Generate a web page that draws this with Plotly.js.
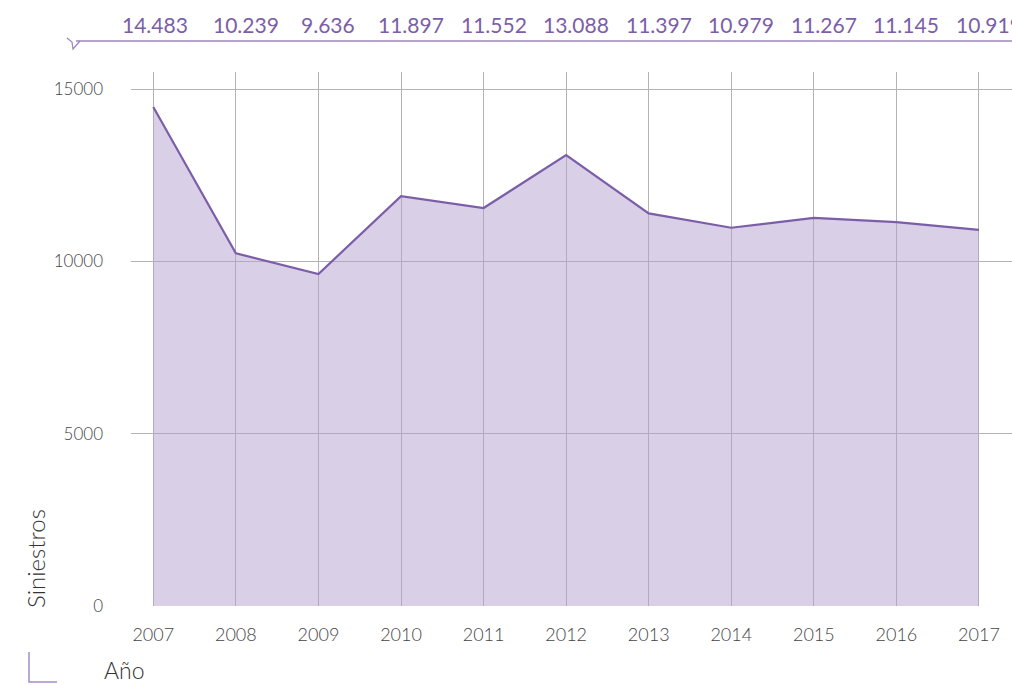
<!DOCTYPE html>
<html><head><meta charset="utf-8">
<script src="https://cdn.plot.ly/plotly-3.0.1.min.js"></script>
<style>html,body{margin:0;padding:0;background:#fff;}#chart{width:1012px;height:685px;}</style>
</head><body><div id="chart"></div>
<script>
const years = [2007, 2008, 2009, 2010, 2011, 2012, 2013, 2014, 2015, 2016, 2017];
const siniestros = [14483, 10239, 9636, 11897, 11552, 13088, 11397, 10979, 11267, 11145, 10919];
const yTicks = [0, 5000, 10000, 15000];

const W = 1012, H = 685, L = 131, R = 0, T = 72, B = 79;
const pw = W - L - R, ph = H - T - B;
const px = x => (x - L) / pw;
const py = y => (H - B - y) / ph;

function fmt(v) {
  return String(v).replace(/\B(?=(\d{3})+(?!\d))/g, '.');
}

const purple = '#7b5ea7';
const font = 'Lato, "Open Sans", sans-serif';

const trace = {
  x: years, y: siniestros, type: 'scatter', mode: 'lines',
  fill: 'tozeroy', fillcolor: 'rgba(180,160,205,0.5)',
  line: {color: purple, width: 2.2}, hoverinfo: 'x+y'
};

const annotations = years.map((yr, i) => ({
  x: yr, xref: 'x', y: py(24), yref: 'paper', text: fmt(siniestros[i]),
  showarrow: false, xanchor: 'center', yanchor: 'middle', xshift: i === 0 ? 2 : 10,
  font: {family: font, size: 21, color: purple, weight: 400}
}));
annotations.push({
  x: px(35), xref: 'paper', y: py(559), yref: 'paper', text: 'Siniestros', textangle: -90,
  showarrow: false, xanchor: 'center', yanchor: 'middle',
  font: {family: font, size: 24, color: '#333', weight: 300}
});
annotations.push({
  x: px(102), xref: 'paper', y: py(670), yref: 'paper', text: 'Año',
  showarrow: false, xanchor: 'left', yanchor: 'middle',
  font: {family: font, size: 23, color: '#333', weight: 300}
});

const shapes = [
  {type: 'line', xref: 'paper', yref: 'paper', x0: px(76), x1: px(1012), y0: py(41), y1: py(41),
   line: {color: '#b7a2d2', width: 2}},
  {type: 'path', xref: 'paper', yref: 'paper',
   path: `M ${px(67)} ${py(38)} L ${px(72)} ${py(42)} L ${px(73)} ${py(49)} L ${px(80)} ${py(41)}`,
   line: {color: '#9b83c2', width: 1.2}},
  {type: 'path', xref: 'paper', yref: 'paper',
   path: `M ${px(29)} ${py(652)} L ${px(29)} ${py(682)} L ${px(57)} ${py(682)}`,
   line: {color: '#a58cc9', width: 1.5}}
];

const layout = {
  width: W, height: H, margin: {l: L, r: R, t: T, b: B},
  paper_bgcolor: '#fff', plot_bgcolor: '#fff', showlegend: false,
  font: {family: font, color: '#444'},
  xaxis: {range: [2006.73, 2017.4], tickvals: years, ticktext: years.map(String),
    showgrid: true, gridcolor: '#b3b3b3', gridwidth: 1, zeroline: false, showline: false,
    ticks: '', ticklabelstandoff: 16, tickfont: {family: font, size: 18, color: '#444', weight: 300}},
  yaxis: {range: [0, 15500], tickvals: yTicks, ticktext: yTicks.map(String),
    showgrid: true, gridcolor: '#b3b3b3', gridwidth: 1, zeroline: false, showline: false,
    ticks: '', ticklabelstandoff: 27, tickfont: {family: font, size: 17, color: '#444', weight: 300}},
  annotations, shapes
};

Plotly.newPlot('chart', [trace], layout, {displayModeBar: false, staticPlot: true});
</script></body></html>
